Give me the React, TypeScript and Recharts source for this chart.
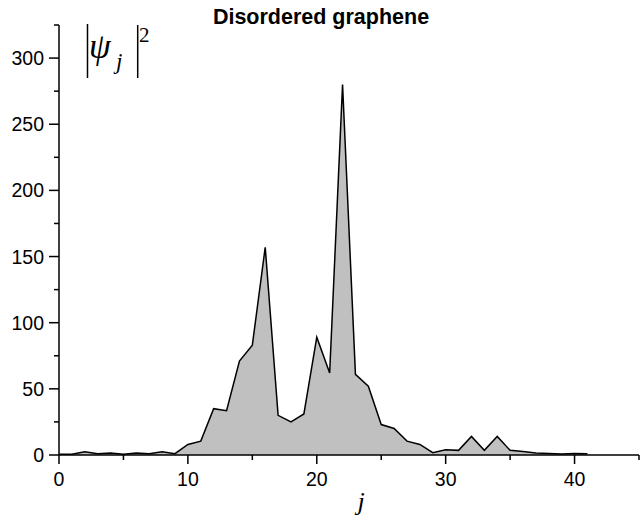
import React from "react";
import { Area, AreaChart, XAxis, YAxis } from "recharts";

const siteIndex = [
  0, 1, 2, 3, 4, 5, 6, 7, 8, 9, 10, 11, 12, 13, 14, 15, 16, 17, 18, 19, 20,
  21, 22, 23, 24, 25, 26, 27, 28, 29, 30, 31, 32, 33, 34, 35, 36, 37, 38, 39,
  40, 41,
];
const psiSquared = [
  0.5, 0.5, 2.5, 1, 1.5, 0.5, 1.5, 1, 2.5, 1, 8, 10.5, 35, 33.5, 71, 83, 157,
  30, 25, 31, 89, 62, 280, 61, 52, 23, 20, 10.5, 8, 1.7, 4, 3.5, 14, 3.5, 14,
  3.5, 2.7, 1.5, 1.2, 0.8, 1.2, 1,
];
const xTicks = [0, 5, 10, 15, 20, 25, 30, 35, 40, 45];
const yTicks = [0, 25, 50, 75, 100, 125, 150, 175, 200, 225, 250, 275, 300, 325];

const data = siteIndex.map((j, i) => ({ j, value: psiSquared[i] }));

const sans = "'Liberation Sans', Arial, sans-serif";
const serif = "'Liberation Serif', 'Times New Roman', serif";

function XTick({ x, y, payload }: any) {
  const v = payload.value;
  const major = v % 10 === 0;
  return (
    <g>
      <line x1={x} x2={x} y1={y} y2={y + (major ? 9 : 5)} stroke="#000" strokeWidth={1.5} />
      {major && (
        <text x={x} y={y + 31} textAnchor="middle" fontSize={19.5} fontFamily={sans} fill="#000">
          {v}
        </text>
      )}
    </g>
  );
}

function YTick({ x, y, payload }: any) {
  const v = payload.value;
  const major = v % 50 === 0;
  return (
    <g>
      <line x1={x} x2={x - (major ? 10 : 5)} y1={y} y2={y} stroke="#000" strokeWidth={1.5} />
      {major && (
        <text x={x - 15} y={y + 7} textAnchor="end" fontSize={19.5} fontFamily={sans} fill="#000">
          {v}
        </text>
      )}
    </g>
  );
}

export default function App() {
  return (
    <div style={{ position: "absolute", left: 0, top: 0, width: 640, height: 521, background: "#fff" }}>
      <AreaChart width={640} height={521} data={data} margin={{ top: 25, right: 1, bottom: 36, left: 0 }}>
        <XAxis
          dataKey="j"
          type="number"
          domain={[0, 45]}
          ticks={xTicks}
          interval={0}
          height={30}
          tickSize={0}
          tickMargin={0}
          tickLine={false}
          tick={<XTick />}
          axisLine={{ stroke: "#000", strokeWidth: 1.5 }}
        />
        <YAxis
          type="number"
          domain={[0, 325]}
          ticks={yTicks}
          interval={0}
          width={59}
          tickSize={0}
          tickMargin={0}
          tickLine={false}
          tick={<YTick />}
          axisLine={{ stroke: "#000", strokeWidth: 1.5 }}
        />
        <Area
          type="linear"
          dataKey="value"
          stroke="#000"
          strokeWidth={1.5}
          fill="#c0c0c0"
          fillOpacity={1}
          dot={false}
          activeDot={false}
          isAnimationActive={false}
        />
      </AreaChart>
      <svg width={640} height={521} style={{ position: "absolute", left: 0, top: 0, pointerEvents: "none" }}>
        <text x={321} y={24} textAnchor="middle" fontSize={21.5} fontWeight="bold" fontFamily={sans} fill="#000">
          Disordered graphene
        </text>
        <line x1={87.5} x2={87.5} y1={24} y2={78} stroke="#000" strokeWidth={1.5} />
        <text x={89} y={58} fontSize={35} fontStyle="italic" fontFamily={serif} fill="#000">
          ψ
        </text>
        <text x={116} y={69} fontSize={23} fontStyle="italic" fontFamily={serif} fill="#000">
          j
        </text>
        <line x1={137.7} x2={137.7} y1={25} y2={78} stroke="#000" strokeWidth={1.5} />
        <text x={139} y={42} fontSize={21} fontFamily={serif} fill="#000">
          2
        </text>
        <text x={361} y={510} textAnchor="middle" fontSize={26} fontStyle="italic" fontFamily={serif} fill="#000">
          j
        </text>
      </svg>
    </div>
  );
}
